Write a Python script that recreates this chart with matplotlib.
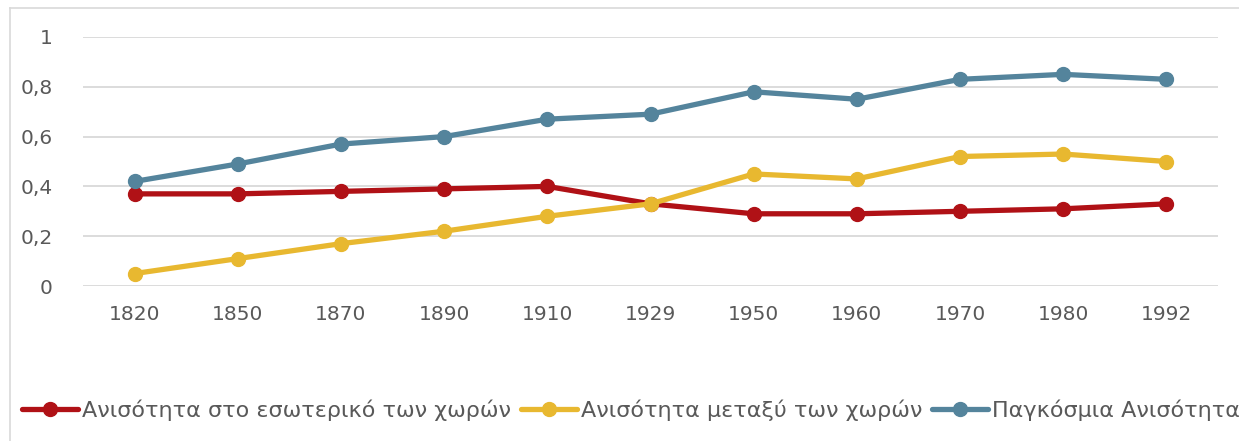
import matplotlib
matplotlib.use("Agg")
import matplotlib.pyplot as plt
from matplotlib.lines import Line2D

years = ["1820", "1850", "1870", "1890", "1910", "1929", "1950", "1960", "1970", "1980", "1992"]
within = [0.37, 0.37, 0.38, 0.39, 0.40, 0.33, 0.29, 0.29, 0.30, 0.31, 0.33]
between = [0.05, 0.11, 0.17, 0.22, 0.28, 0.33, 0.45, 0.43, 0.52, 0.53, 0.50]
world = [0.42, 0.49, 0.57, 0.60, 0.67, 0.69, 0.78, 0.75, 0.83, 0.85, 0.83]
labels = ["Ανισότητα στο εσωτερικό των χωρών", "Ανισότητα μεταξύ των χωρών", "Παγκόσμια Ανισότητα"]
yticks = [0, 0.2, 0.4, 0.6, 0.8, 1]
ytick_labels = ["0", "0,2", "0,4", "0,6", "0,8", "1"]
colors = ["#B01116", "#E8B830", "#54849C"]

plt.rcParams['font.family'] = ['DejaVu Sans']
txt = "#595959"

W, H = 1239, 441
fig = plt.figure(figsize=(W / 100, H / 100), dpi=100)
ax = fig.add_axes([83 / W, 1 - 286 / H, (1218 - 83) / W, (286 - 37) / H])

x = list(range(len(years)))
handles = []
for vals, c, lab in zip([within, between, world], colors, labels):
    h, = ax.plot(x, vals, color=c, lw=3.8, marker='o', ms=10, label=lab,
                 clip_on=False, zorder=3, solid_capstyle='round')
    handles.append(h)

ax.set_xlim(-0.5, len(years) - 0.5)
ax.set_ylim(0, 1)
ax.set_xticks(x)
ax.set_xticklabels(years)
ax.set_yticks(yticks)
ax.set_yticklabels(ytick_labels)
ax.tick_params(axis='both', length=0, labelsize=14.5, labelcolor=txt)
ax.tick_params(axis='x', pad=14)
ax.tick_params(axis='y', pad=22)
ax.grid(axis='y', color='#D9D9D9', lw=1.3)
ax.set_axisbelow(True)
for s in ax.spines.values():
    s.set_visible(False)

# outer chart border (left and top)
fig.add_artist(Line2D([9.5 / W, 9.5 / W], [0, 1 - 8 / H], color='#D9D9D9', lw=1.2, transform=fig.transFigure))
fig.add_artist(Line2D([9.5 / W, 1], [1 - 8 / H, 1 - 8 / H], color='#D9D9D9', lw=1.2, transform=fig.transFigure))

leg = fig.legend(handles=handles, loc='center left', bbox_to_anchor=(22 / W, 1 - 410 / H),
                 ncol=3, frameon=False, fontsize=16, handlelength=2.5, handletextpad=0.2,
                 columnspacing=0.45, borderaxespad=0, borderpad=0)
for t in leg.get_texts():
    t.set_color(txt)

fig.savefig("out.png", dpi=100)
